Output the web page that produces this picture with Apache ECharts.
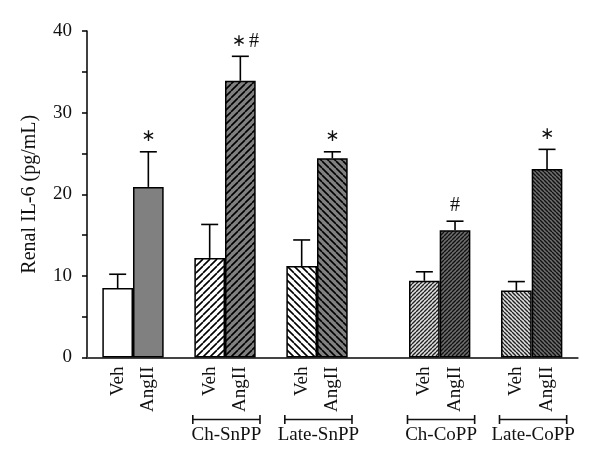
<!DOCTYPE html>
<html>
<head>
<meta charset="utf-8">
<script src="https://cdn.jsdelivr.net/npm/echarts@6/dist/echarts.min.js"></script>
<style>html,body{margin:0;padding:0;background:#fff;}#c{width:600px;height:467px;}</style>
</head>
<body>
<div id="c"></div>
<script>
// Categories (blank entries are spacers between groups)
const categories = ['', 'Veh', 'AngII', '', 'Veh', 'AngII', '', 'Veh', 'AngII', '', '', 'Veh', 'AngII', '', 'Veh', 'AngII', ''];
// Mean values (pg/mL)
const means = [null, 8.5, 20.9, null, 12.2, 33.9, null, 11.2, 24.4, null, null, 9.4, 15.6, null, 8.2, 23.1, null];
// Upper end of error bars (mean + SEM)
const upper = [null, 10.2, 25.2, null, 16.3, 36.9, null, 14.4, 25.2, null, null, 10.5, 16.7, null, 9.3, 25.5, null];
// Significance marks
const marks = ['', '', '*', '', '', '*#', '', '', '*', '', '', '', '#', '', '', '*', ''];
// Group brackets
const groupNames = ['Ch-SnPP', 'Late-SnPP', 'Ch-CoPP', 'Late-CoPP'];
const groupStart = [4, 7, 11, 14];
const yTicks = [0, 10, 20, 30, 40];

function hatch(bg, line, size, lw, dir) {
  const c = document.createElement('canvas');
  c.width = size; c.height = size;
  const g = c.getContext('2d');
  g.fillStyle = bg; g.fillRect(0, 0, size, size);
  g.strokeStyle = line; g.lineWidth = lw;
  g.beginPath();
  if (dir === '/') {
    g.moveTo(-size, size * 1); g.lineTo(0, 0);
    g.moveTo(0, size); g.lineTo(size, 0);
    g.moveTo(size, size); g.lineTo(size * 2, 0);
  } else {
    g.moveTo(-size, 0); g.lineTo(0, size);
    g.moveTo(0, 0); g.lineTo(size, size);
    g.moveTo(size, 0); g.lineTo(size * 2, size);
  }
  g.stroke();
  return { image: c, repeat: 'repeat' };
}

const fills = {
  1: '#ffffff',
  2: '#808080',
  4: hatch('#ffffff', '#000', 7, 1.6, '/'),
  5: hatch('#808080', '#000', 7, 1.6, '/'),
  7: hatch('#ffffff', '#000', 7, 1.6, '\\'),
  8: hatch('#808080', '#000', 7, 1.6, '\\'),
  11: hatch('#e0e0e0', '#222', 4, 1.4, '/'),
  12: hatch('#6e6e6e', '#111', 4, 1.4, '/'),
  14: hatch('#e0e0e0', '#222', 4, 1.4, '\\'),
  15: hatch('#6e6e6e', '#111', 4, 1.4, '\\')
};

const FONT = 'Liberation Serif';
const STAR_FONT = '"DejaVu Sans"';

const barData = means.map((v, i) => v == null ? null : ({ value: v, itemStyle: { color: fills[i] } }));
const errData = means.map((v, i) => v == null ? null : [i, v, upper[i], marks[i]]).filter(d => d);
const groupData = groupNames.map((n, k) => [groupStart[k], 0, n]);

const chart = echarts.init(document.getElementById('c'), null, { renderer: 'canvas' });
chart.setOption({
  animation: false,
  grid: { left: 87, right: 22.3, top: 31, bottom: 109.5, containLabel: false },
  xAxis: {
    type: 'category',
    data: categories,
    boundaryGap: false,
    axisLine: { lineStyle: { color: '#444', width: 2 } },
    axisTick: { show: false },
    axisLabel: { interval: 0, rotate: 90, margin: 9, fontFamily: FONT, fontSize: 19, color: '#111' },
    splitLine: { show: false }
  },
  yAxis: {
    type: 'value',
    min: 0, max: 40, interval: 10,
    name: 'Renal IL-6 (pg/mL)',
    nameLocation: 'middle',
    nameGap: 47,
    nameTextStyle: { fontFamily: FONT, fontSize: 20, color: '#111' },
    axisLine: { show: true, lineStyle: { color: '#000', width: 1.5 } },
    axisTick: { show: true, inside: false, length: 5, lineStyle: { color: '#000', width: 1.5 } },
    minorTick: { show: true, splitNumber: 2, length: 5, lineStyle: { color: '#000', width: 1.5 } },
    axisLabel: { margin: 15, fontFamily: FONT, fontSize: 19, color: '#111',
      formatter: v => yTicks.includes(v) ? String(v) : '' },
    splitLine: { show: false }
  },
  series: [
    {
      type: 'bar',
      data: barData,
      barWidth: '100%',
      barGap: '0%',
      itemStyle: { borderColor: '#000', borderWidth: 1.5 },
      z: 2
    },
    {
      type: 'custom',
      data: errData,
      encode: { x: 0, y: 2 },
      z: 3,
      renderItem: function (params, api) {
        const x = api.value(0);
        const pm = api.coord([x, api.value(1)]);
        const pu = api.coord([x, api.value(2)]);
        const half = 8.5;
        const mark = api.value(3);
        const children = [
          { type: 'line', shape: { x1: pm[0], y1: pm[1], x2: pu[0], y2: pu[1] }, style: { stroke: '#000', lineWidth: 1.6 } },
          { type: 'line', shape: { x1: pu[0] - half, y1: pu[1], x2: pu[0] + half, y2: pu[1] }, style: { stroke: '#000', lineWidth: 1.6 } }
        ];
        if (mark) {
          const rich = {
            s: { fontFamily: STAR_FONT, fontSize: 17, color: '#111' },
            h: { fontFamily: FONT, fontSize: 20, color: '#111' },
            h2: { fontFamily: FONT, fontSize: 20, color: '#111', padding: [0, 0, 0, 3] }
          };
          let txt = '';
          for (let k = 0; k < mark.length; k++) {
            const ch = mark[k];
            txt += ch === '*' ? '{s|∗}' : (k > 0 ? '{h2|#}' : '{h|#}');
          }
          children.push({ type: 'text', style: { x: pu[0] + (mark.length > 1 ? 5 : 0), y: pu[1] - 15, text: txt, rich: rich, align: 'center', verticalAlign: 'middle', fill: '#111' } });
        }
        return { type: 'group', children: children };
      }
    },
    {
      type: 'custom',
      data: groupData,
      encode: { x: 0, y: 1 },
      clip: false,
      z: 3,
      renderItem: function (params, api) {
        const s = api.value(0);
        const w = api.size([1, 0])[0];
        const p0 = api.coord([s, 0]);
        const p1 = api.coord([s + 1, 0]);
        const x0 = p0[0] - 0.55 * w, x1 = p1[0] + 0.64 * w;
        const y = p0[1] + 62;
        const ls = { stroke: '#111', lineWidth: 1.6 };
        return { type: 'group', children: [
          { type: 'line', shape: { x1: x0, y1: y, x2: x1, y2: y }, style: ls },
          { type: 'line', shape: { x1: x0, y1: y - 4.5, x2: x0, y2: y + 4.5 }, style: ls },
          { type: 'line', shape: { x1: x1, y1: y - 4.5, x2: x1, y2: y + 4.5 }, style: ls },
          { type: 'text', style: { x: (x0 + x1) / 2, y: y + 16, text: api.value(2), align: 'center', verticalAlign: 'middle', font: '19px "' + FONT + '"', fill: '#111' } }
        ] };
      }
    }
  ]
});
</script>
</body>
</html>
